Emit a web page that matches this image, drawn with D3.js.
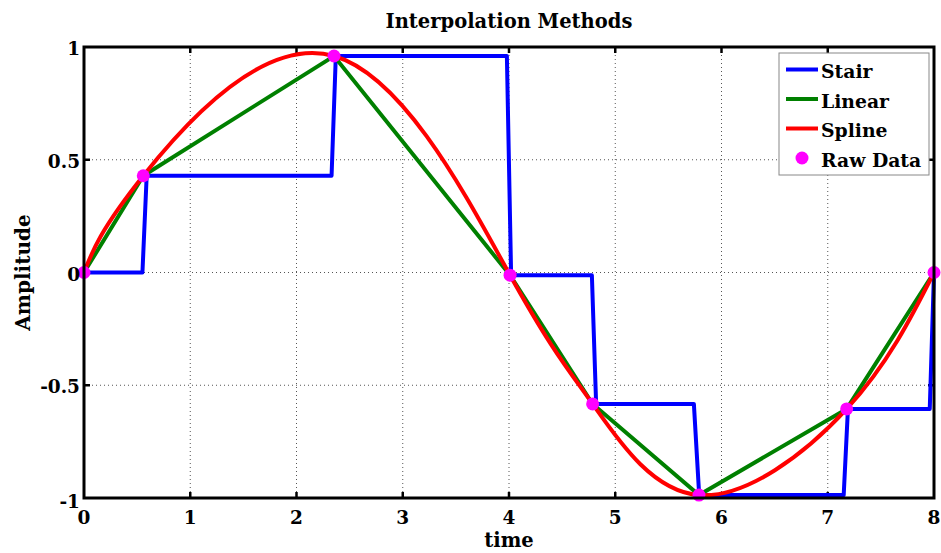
<!DOCTYPE html>
<html>
<head>
<meta charset="utf-8">
<script src="https://cdn.jsdelivr.net/npm/d3@7"></script>
<style>
  body { margin: 0; background: #fff; }
  text { font-family: "DejaVu Serif", serif; font-weight: bold; fill: #000; }
</style>
</head>
<body>
<div id="d3-container"></div>
<script>
/**
 * CONSTANTS AND GLOBALS
 * */
const width = 941,
  height = 553,
  margin = { top: 47, bottom: 55, left: 84, right: 7 };

// raw sample points (time, amplitude)
const rawTime = [0, 0.558, 2.353, 4.01, 4.787, 5.788, 7.178, 8];
const rawAmp = [0, 0.429, 0.96, -0.012, -0.583, -0.987, -0.605, 0];

// stair trace as drawn (vertices)
const stairTime = [0, 0.55, 0.59, 2.33, 2.37, 3.98, 4.02, 4.78, 4.82, 5.74, 5.79, 7.15, 7.19, 7.96, 8];
const stairAmp = [0, 0, 0.429, 0.429, 0.96, 0.96, -0.012, -0.012, -0.583, -0.583, -0.987, -0.987, -0.605, -0.605, 0];

const xTicks = [0, 1, 2, 3, 4, 5, 6, 7, 8];
const yTicks = [-1, -0.5, 0, 0.5, 1];
const legendNames = ["Stair", "Linear", "Spline", "Raw Data"];
const legendColors = ["#0000ff", "#008000", "#ff0000", "#ff00ff"];

const svg = d3.select("#d3-container")
  .append("svg")
  .attr("width", width)
  .attr("height", height);

const x = d3.scaleLinear().domain([0, 8]).range([margin.left, width - margin.right]);
const y = d3.scaleLinear().domain([-1, 1]).range([height - margin.bottom, margin.top]);

const raw = rawTime.map((t, i) => ({ t: t, v: rawAmp[i] }));
const stair = stairTime.map((t, i) => ({ t: t, v: stairAmp[i] }));

// grid
svg.append("g")
  .selectAll("line")
  .data(xTicks.slice(1, -1))
  .join("line")
  .attr("x1", d => x(d)).attr("x2", d => x(d))
  .attr("y1", y(1)).attr("y2", y(-1))
  .attr("stroke", "#555")
  .attr("stroke-width", 1)
  .attr("stroke-dasharray", "1,3");
svg.append("g")
  .selectAll("line")
  .data(yTicks.slice(1, -1))
  .join("line")
  .attr("y1", d => y(d)).attr("y2", d => y(d))
  .attr("x1", x(0)).attr("x2", x(8))
  .attr("stroke", "#555")
  .attr("stroke-width", 1)
  .attr("stroke-dasharray", "1,3");

// inner ticks
const tickLen = 6;
const tickG = svg.append("g").attr("stroke", "#000").attr("stroke-width", 2.5);
xTicks.slice(1, -1).forEach(d => {
  tickG.append("line").attr("x1", x(d)).attr("x2", x(d)).attr("y1", y(-1)).attr("y2", y(-1) - tickLen);
  tickG.append("line").attr("x1", x(d)).attr("x2", x(d)).attr("y1", y(1)).attr("y2", y(1) + tickLen);
});
yTicks.slice(1, -1).forEach(d => {
  tickG.append("line").attr("y1", y(d)).attr("y2", y(d)).attr("x1", x(0)).attr("x2", x(0) + tickLen);
  tickG.append("line").attr("y1", y(d)).attr("y2", y(d)).attr("x1", x(8)).attr("x2", x(8) - tickLen);
});

// series
const line = d3.line().x(d => x(d.t)).y(d => y(d.v));

svg.append("path")
  .datum(stair)
  .attr("d", line)
  .attr("fill", "none")
  .attr("stroke", legendColors[0])
  .attr("stroke-width", 4)
  .attr("stroke-linejoin", "round");

svg.append("path")
  .datum(raw)
  .attr("d", line)
  .attr("fill", "none")
  .attr("stroke", legendColors[1])
  .attr("stroke-width", 4);

svg.append("path")
  .datum(raw)
  .attr("d", line.curve(d3.curveNatural))
  .attr("fill", "none")
  .attr("stroke", legendColors[2])
  .attr("stroke-width", 4);

svg.append("g")
  .selectAll("circle")
  .data(raw)
  .join("circle")
  .attr("cx", d => x(d.t))
  .attr("cy", d => y(d.v))
  .attr("r", 6.5)
  .attr("fill", legendColors[3]);

// axes box
svg.append("rect")
  .attr("x", x(0)).attr("y", y(1))
  .attr("width", x(8) - x(0)).attr("height", y(-1) - y(1))
  .attr("fill", "none")
  .attr("stroke", "#000")
  .attr("stroke-width", 3);

// tick labels
svg.append("g").selectAll("text")
  .data(xTicks)
  .join("text")
  .attr("x", d => x(d))
  .attr("y", y(-1) + 26)
  .attr("text-anchor", "middle")
  .attr("font-size", 18.5)
  .text(d => d);
svg.append("g").selectAll("text")
  .data(yTicks)
  .join("text")
  .attr("x", x(0) - 4)
  .attr("y", d => y(d) + (d === -1 ? 10 : 8))
  .attr("text-anchor", "end")
  .attr("font-size", 18.5)
  .text(d => d);

// titles
svg.append("text")
  .attr("x", (x(0) + x(8)) / 2)
  .attr("y", 28)
  .attr("text-anchor", "middle")
  .attr("font-size", 19.5)
  .text("Interpolation Methods");
svg.append("text")
  .attr("x", (x(0) + x(8)) / 2)
  .attr("y", 547)
  .attr("text-anchor", "middle")
  .attr("font-size", 19.5)
  .text("time");
svg.append("text")
  .attr("transform", "translate(30," + y(0) + ") rotate(-90)")
  .attr("text-anchor", "middle")
  .attr("font-size", 20)
  .text("Amplitude");

// legend
const legend = svg.append("g").attr("transform", "translate(779,53)");
legend.append("rect")
  .attr("width", 150).attr("height", 122)
  .attr("fill", "#fff")
  .attr("stroke", "#888")
  .attr("stroke-width", 1);
const items = legend.selectAll("g.item")
  .data(legendNames)
  .join("g")
  .attr("class", "item")
  .attr("transform", (d, i) => "translate(0," + (16.5 + i * 29.5) + ")");
items.filter((d, i) => i < 3)
  .append("line")
  .attr("x1", 7).attr("x2", 39)
  .attr("stroke", (d, i) => legendColors[i])
  .attr("stroke-width", 4);
items.filter((d, i) => i === 3)
  .append("circle")
  .attr("cx", 23).attr("r", 6.5)
  .attr("fill", legendColors[3]);
items.append("text")
  .attr("x", 42)
  .attr("y", 8.5)
  .attr("font-size", 18.8)
  .text(d => d);
</script>
</body>
</html>
